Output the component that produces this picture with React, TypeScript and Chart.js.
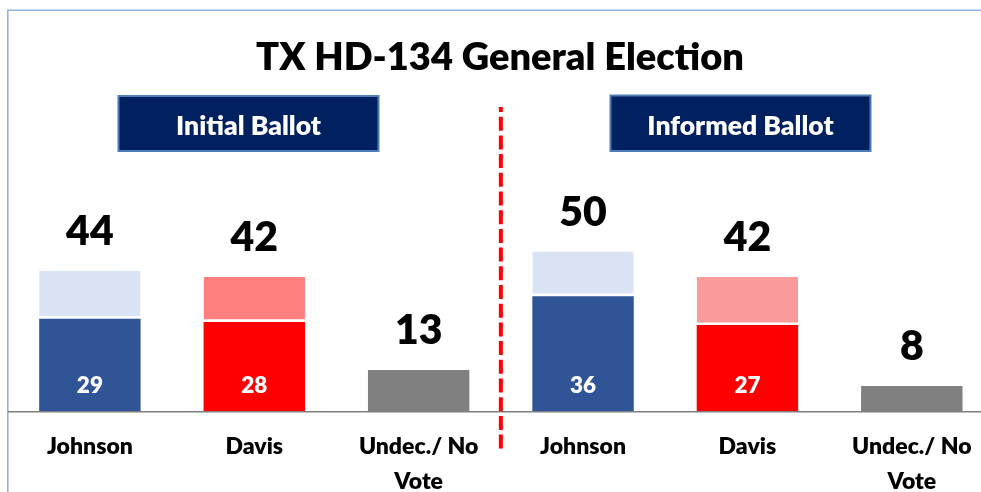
import React, { useEffect, useRef } from "react";
import { Chart, registerables } from "chart.js";

Chart.register(...registerables);

// ---- data ----
const chartTitle = "TX HD-134 General Election";
const ballotGroups = ["Initial Ballot", "Informed Ballot"];
const categories: string[][] = [
  ["Johnson"],
  ["Davis"],
  ["Undec./ No", "Vote"],
  ["Johnson"],
  ["Davis"],
  ["Undec./ No", "Vote"],
];
const totals = [44, 42, 13, 50, 42, 8];
const definite: (number | null)[] = [29, 28, null, 36, 27, null];

// ---- styles ----
const darkColors = ["#2F5597", "#FF0000", "#808080", "#2F5597", "#FF0000", "#808080"];
const lightColors = ["#DAE3F3", "#FF7F7F", "#808080", "#DAE3F3", "#F99B9B", "#808080"];
const FONT = "Lato, 'Open Sans', sans-serif";
const W = "800";

const baseValues = totals.map((t, i) => (definite[i] ?? t));
const leanValues = totals.map((t, i) => t - baseValues[i]);

const overlayPlugin = {
  id: "overlay",
  afterDatasetsDraw(chart: any) {
    const ctx: CanvasRenderingContext2D = chart.ctx;
    const xs = chart.scales.x;
    const ys = chart.scales.y;
    ctx.save();

    // outer frame (top & left)
    ctx.strokeStyle = "#8EB4E3";
    ctx.lineWidth = 1.6;
    ctx.beginPath();
    ctx.moveTo(7.8, 492);
    ctx.lineTo(7.8, 10.2);
    ctx.lineTo(1000, 10.2);
    ctx.stroke();

    // axis line
    const y0 = ys.getPixelForValue(0);
    ctx.strokeStyle = "#7F7F7F";
    ctx.lineWidth = 1.6;
    ctx.beginPath();
    ctx.moveTo(8, y0 + 0.3);
    ctx.lineTo(1000, y0 + 0.3);
    ctx.stroke();

    // title
    ctx.fillStyle = "#000";
    ctx.textAlign = "center";
    ctx.textBaseline = "alphabetic";
    ctx.font = `${W} 38px ${FONT}`;
    ctx.fillText(chartTitle, 500, 70);

    // group boxes
    const boxes = [
      { x: 118.5, y: 96, w: 260, h: 55 },
      { x: 610.5, y: 95.5, w: 260, h: 55.5 },
    ];
    ballotGroups.forEach((g, i) => {
      const b = boxes[i];
      ctx.fillStyle = "#002060";
      ctx.fillRect(b.x, b.y, b.w, b.h);
      ctx.strokeStyle = "#4F7DB5";
      ctx.lineWidth = 2;
      ctx.strokeRect(b.x, b.y, b.w, b.h);
      ctx.fillStyle = "#FFFFFF";
      ctx.font = `${W} 26.5px ${FONT}`;
      ctx.fillText(g, b.x + b.w / 2, 135);
    });

    // dashed divider between groups
    const xDiv = (xs.getPixelForValue(2) + xs.getPixelForValue(3)) / 2;
    ctx.strokeStyle = "#FF0000";
    ctx.lineWidth = 4;
    ctx.setLineDash([14, 4.7]);
    ctx.lineDashOffset = 9;
    ctx.beginPath();
    ctx.moveTo(xDiv, 107);
    ctx.lineTo(xDiv, 450);
    ctx.stroke();
    ctx.setLineDash([]);

    // labels
    totals.forEach((t, i) => {
      const xc = xs.getPixelForValue(i);
      const yTop = ys.getPixelForValue(t);
      ctx.fillStyle = "#000";
      ctx.font = `${W} 41px ${FONT}`;
      ctx.fillText(String(t), xc, yTop - 26);
      const d = definite[i];
      if (d !== null) {
        ctx.fillStyle = "#FFFFFF";
        ctx.font = `${W} 22.5px ${FONT}`;
        ctx.fillText(String(d), xc, y0 - 18.5);
      }
      ctx.fillStyle = "#000";
      ctx.font = `${W} 23px ${FONT}`;
      categories[i].forEach((line, k) => {
        ctx.fillText(line, xc, 453.5 + k * 35);
      });
    });

    ctx.restore();
  },
};

export default function App() {
  const ref = useRef<HTMLCanvasElement | null>(null);
  useEffect(() => {
    if (!ref.current) return;
    const chart = new Chart(ref.current, {
      type: "bar",
      data: {
        labels: categories.map((c) => c.join(" ")),
        datasets: [
          {
            data: baseValues,
            backgroundColor: darkColors,
            borderWidth: 0,
            barPercentage: 0.617,
            categoryPercentage: 1,
          },
          {
            data: leanValues,
            backgroundColor: lightColors,
            borderColor: "#FFFFFF",
            borderWidth: { top: 0, left: 0, right: 0, bottom: 2.7 },
            borderSkipped: false,
            barPercentage: 0.617,
            categoryPercentage: 1,
          },
        ],
      },
      options: {
        animation: false,
        responsive: true,
        maintainAspectRatio: false,
        events: [],
        layout: { padding: { left: 7.7, right: 0, top: 219.5, bottom: 80.5 } },
        plugins: {
          legend: { display: false },
          tooltip: { enabled: false },
          title: { display: false },
        },
        scales: {
          x: { display: false, stacked: true },
          y: { display: false, stacked: true, min: 0, max: 60 },
        },
      },
      plugins: [overlayPlugin],
    });
    return () => chart.destroy();
  }, []);

  return (
    <div
      style={{
        position: "absolute",
        left: 0,
        top: 0,
        width: 981,
        height: 492,
        overflow: "hidden",
        background: "#FFFFFF",
      }}
    >
      <div style={{ position: "relative", width: 994, height: 492 }}>
        <canvas ref={ref} />
      </div>
    </div>
  );
}
